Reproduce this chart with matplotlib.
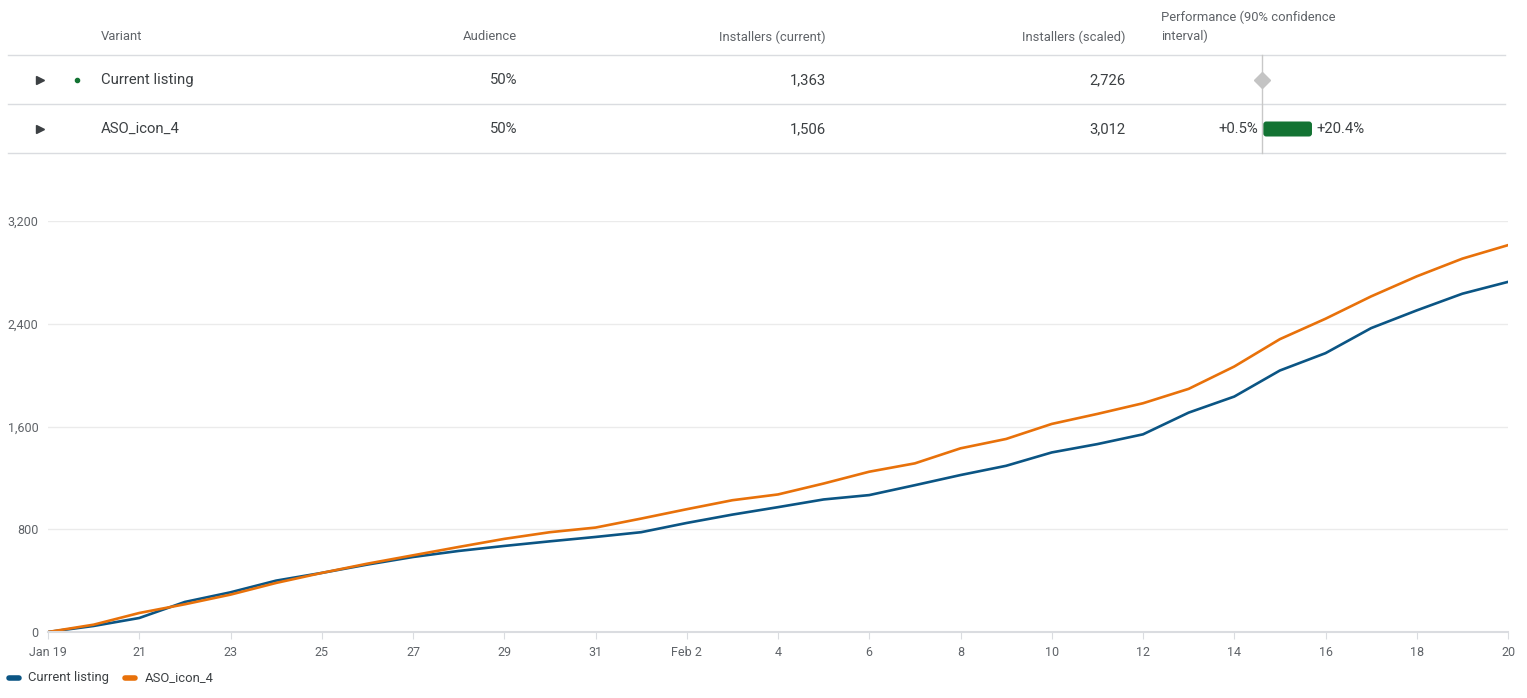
import matplotlib.pyplot as plt
from matplotlib.patches import FancyBboxPatch
import numpy as np

plt.rcParams['font.family'] = ['Roboto', 'DejaVu Sans']

# table data
variants = ["Current listing", "ASO_icon_4"]
audience = ["50%", "50%"]
installers_current = [1363, 1506]
installers_scaled = [2726, 3012]
ci_low = [None, 0.5]
ci_high = [None, 20.4]
headers = ["Variant", "Audience", "Installers (current)", "Installers (scaled)",
           "Performance (90% confidence\ninterval)"]

# cumulative installers (scaled), Jan 19 .. Feb 20
current_listing = [0, 47, 109, 234, 309, 400, 460, 525, 584, 631, 670, 706, 740,
                   777, 849, 914, 972, 1032, 1066, 1143, 1222, 1294, 1398, 1463,
                   1539, 1708, 1833, 2036, 2171, 2366, 2504, 2634, 2726]
aso_icon_4 = [0, 57, 148, 216, 291, 382, 460, 532, 597, 662, 725, 777, 813,
              883, 956, 1026, 1071, 1156, 1248, 1313, 1430, 1503, 1620, 1698,
              1781, 1893, 2067, 2280, 2439, 2613, 2769, 2907, 3012]
tick_labels = ["Jan 19", "21", "23", "25", "27", "29", "31", "Feb 2", "4", "6",
               "8", "10", "12", "14", "16", "18", "20"]
y_ticks = [0, 800, 1600, 2400, 3200]

blue = "#0b5584"
orange = "#e8710a"
green = "#137333"
head_col = "#5f6368"
body_col = "#3c4043"
line_col = "#dadce0"
fs_head = 9.4
fs_body = 10.7

fig = plt.figure(figsize=(15.27, 6.98), dpi=100)

# overlay in pixel coordinates for the table and legend
ov = fig.add_axes([0, 0, 1, 1])
ov.set_xlim(0, 1527)
ov.set_ylim(698, 0)
ov.axis("off")

# header
ov.text(101, 37, headers[0], color=head_col, fontsize=fs_head, va="center")
ov.text(517, 37, headers[1], color=head_col, fontsize=fs_head, va="center", ha="right")
ov.text(826, 37, headers[2], color=head_col, fontsize=fs_head, va="center", ha="right")
ov.text(1125, 37, headers[3], color=head_col, fontsize=fs_head, va="center", ha="right")
ov.text(1161, 27, headers[4], color=head_col, fontsize=fs_head, va="center",
        linespacing=1.55)

for yl in [55, 104, 153]:
    ov.plot([8, 1505], [yl, yl], color=line_col, lw=1)

zero_x = 1262
px_per_pct = 2.45
ov.plot([zero_x, zero_x], [55, 153], color="#c8c8c8", lw=1)

row_y = [80, 129]
for i, name in enumerate(variants):
    y = row_y[i]
    ov.plot(40, y, marker=">", color=body_col, markersize=6)
    if i == 0:
        ov.plot(77, y, marker="o", color=green, markersize=3)
    ov.text(101, y, name, color=body_col, fontsize=fs_body, va="center")
    ov.text(517, y, audience[i], color=body_col, fontsize=fs_body, va="center", ha="right")
    ov.text(826, y, f"{installers_current[i]:,}", color=body_col, fontsize=fs_body,
            va="center", ha="right")
    ov.text(1125, y, f"{installers_scaled[i]:,}", color=body_col, fontsize=fs_body,
            va="center", ha="right")
    if ci_low[i] is None:
        ov.plot(zero_x, y, marker="D", color="#c4c4c4", markersize=8)
    else:
        x0 = zero_x + ci_low[i] * px_per_pct
        x1 = zero_x + ci_high[i] * px_per_pct
        ov.add_patch(FancyBboxPatch((x0, y - 7.5), x1 - x0, 15,
                                    boxstyle="round,pad=0,rounding_size=3",
                                    fc=green, ec="none"))
        ov.text(x0 - 5, y, f"+{ci_low[i]}%", color=body_col, fontsize=fs_body,
                va="center", ha="right")
        ov.text(x1 + 4, y, f"+{ci_high[i]}%", color=body_col, fontsize=fs_body,
                va="center", ha="left")

# legend
ov.plot([9, 19], [678, 678], color=blue, lw=4, solid_capstyle="round")
ov.text(28, 678, variants[0], color=body_col, fontsize=fs_head, va="center")
ov.plot([125, 135], [678, 678], color=orange, lw=4, solid_capstyle="round")
ov.text(145, 678, variants[1], color=body_col, fontsize=fs_head, va="center")

# line chart
ax = fig.add_axes([48 / 1527, (698 - 632) / 698, 1460 / 1527, (632 - 221) / 698])
days = np.arange(len(current_listing))
ax.plot(days, current_listing, color=blue, lw=1.9)
ax.plot(days, aso_icon_4, color=orange, lw=1.9)
ax.set_xlim(0, len(days) - 1)
ax.set_ylim(0, 3200)
ax.set_xticks(days[::2])
ax.set_xticklabels(tick_labels)
ax.set_yticks(y_ticks)
ax.set_yticklabels([f"{v:,}" for v in y_ticks])
ax.grid(axis="y", color="#ebebeb", lw=1)
ax.set_axisbelow(True)
for s in ["top", "right", "left"]:
    ax.spines[s].set_visible(False)
ax.spines["bottom"].set_color("#dadce0")
ax.spines["bottom"].set_linewidth(1.5)
ax.tick_params(axis="x", length=5, color="#dadce0", labelsize=9,
               labelcolor=head_col, pad=5)
ax.tick_params(axis="y", length=0, labelsize=9, labelcolor=head_col, pad=7)
ax.patch.set_alpha(0)

fig.savefig("out.png", dpi=100)
